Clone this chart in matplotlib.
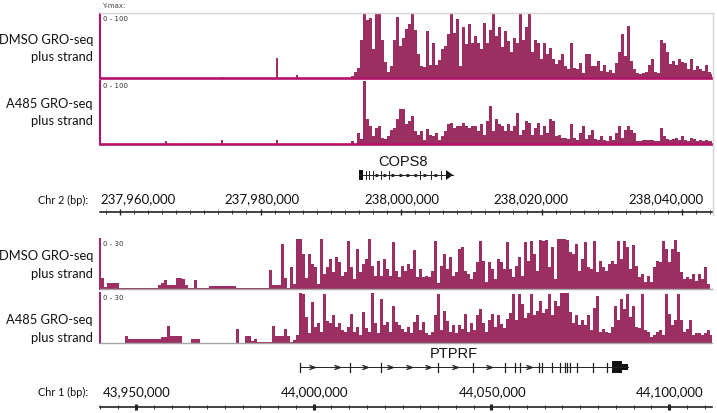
import numpy as np
import matplotlib.pyplot as plt
from matplotlib.patches import Rectangle, Polygon
from matplotlib.lines import Line2D
from matplotlib.ticker import MultipleLocator

plt.rcParams['font.family'] = ['Lato', 'DejaVu Sans']

# ---- data: chr2 window (COPS8), signal 0-100 -------------------------------
TOP_XLIM = (237_957_150, 238_044_270)
TOP_START = 237_992_030
TOP_BIN = 427

dmso_cops8 = [0, 0, 3, 10, 16, 60, 100, 90, 94, 45, 100, 100, 60, 25, 10, 18,
              60, 96, 50, 63, 76, 84, 100, 75, 38, 19, 17, 73, 20, 55, 21, 28,
              45, 50, 68, 100, 70, 92, 18, 80, 53, 84, 55, 65, 55, 45, 86, 55,
              75, 100, 65, 80, 48, 73, 58, 40, 63, 55, 100, 60, 80, 100,
              40, 60, 55, 30, 55, 38, 47, 30, 22, 28, 38, 19, 14, 55, 16, 14,
              24, 8, 37, 37, 18, 19, 27, 11, 21, 9, 12, 8, 24, 40, 68, 35, 81,
              27, 14, 8, 6, 8, 9, 20, 29, 9, 8, 60, 55, 40, 22, 26, 21, 29, 25,
              24, 14, 30, 12, 19, 14, 11, 21, 10, 6]
a485_cops8 = [0, 0, 4, 0, 18, 8, 100, 40, 28, 12, 26, 28, 10, 8, 13, 23, 26,
              40, 55, 55, 32, 37, 45, 20, 15, 20, 7, 24, 15, 13, 18, 7, 13, 21,
              31, 34, 26, 29, 29, 34, 29, 26, 29, 29, 20, 31, 15, 37, 60, 20,
              40, 31, 29, 21, 31, 21, 29, 50, 15, 23, 37, 34,
              15, 25, 34, 15, 28, 18, 39, 36, 12, 14, 10, 10, 8, 31, 10, 7, 18,
              28, 8, 15, 23, 8, 7, 12, 7, 5, 12, 7, 18, 29, 10, 23, 29, 23, 18,
              5, 5, 6, 6, 7, 6, 5, 5, 26, 13, 8, 7, 8, 9, 7, 12, 7, 5, 10, 8, 5,
              7, 5, 7, 5, 4]
# isolated upstream spikes (position, value)
dmso_cops8_spikes = [(237_957_300, 2), (237_974_500, 2), (237_982_350, 31), (237_985_200, 4)]
a485_cops8_spikes = [(237_966_550, 4), (237_974_500, 6), (237_982_350, 7)]

# ---- data: chr1 window (PTPRF), signal 0-30 (given as % of 30) -------------
BOT_XLIM = (43_939_870, 44_112_090)
BOT_START = 43_940_150
BOT_BIN = 844

dmso_ptprf_up = [22, 5, 12, 12, 12, 12, 3, 3, 3, 3, 3, 3, 3, 3, 3, 3, 3, 3, 3,
                 8, 12, 18, 8, 8, 8, 23, 23, 20, 8, 3, 3, 18, 3, 3, 3, 3, 7, 7,
                 7, 7, 7, 7, 7, 7, 7, 2, 2, 2, 2, 2, 2, 2, 2, 2, 2, 2, 38, 8, 8,
                 8, 90, 22]
dmso_ptprf_gene = [3, 44, 10, 100, 100, 70, 22, 71, 50, 45, 10, 100, 30, 44, 60,
                   34, 64, 54, 27, 34, 97, 44, 20, 81, 34, 51, 60, 100, 47, 27,
                   57, 27, 61, 40, 27, 95, 37, 24, 47, 37, 51, 41, 78, 24, 41,
                   24, 27, 24, 37, 97, 12, 47, 71, 40, 64, 27, 34, 81, 84, 37,
                   30, 20, 34, 54, 97, 57, 14, 54, 41, 20,
                   61, 55, 40, 94, 41, 24, 47, 64, 27, 94, 57, 97, 70, 37, 98,
                   97, 99, 44, 84, 20, 100, 100, 100, 99, 75, 70, 90, 37, 61, 94,
                   44, 40, 97, 34, 57, 44, 37, 50, 57, 51, 97, 60, 97, 85, 40, 88,
                   47, 24, 30, 15, 27, 14, 44, 57, 55, 97, 81, 54, 80, 99, 74, 34,
                   20, 24, 20, 30, 17, 30, 20, 44, 10]
a485_ptprf_up = [1, 1, 1, 1, 1, 1, 1, 1, 14, 8, 8, 8, 8, 8, 8, 8, 8, 8, 8, 8,
                 12, 12, 35, 15, 15, 15, 15, 1, 1, 1, 8, 8, 8, 1, 1, 1, 1, 1, 1,
                 1, 1, 1, 1, 1, 1, 29, 1, 1, 15, 15, 5, 8, 2, 2, 2, 2, 2, 35, 15,
                 15, 15, 29, 15]
a485_ptprf_gene = [3, 7, 16, 100, 98, 53, 20, 82, 32, 40, 23, 98, 45, 40, 56, 33,
                   40, 26, 22, 33, 59, 23, 33, 16, 62, 30, 23, 100, 40, 20, 88,
                   36, 42, 23, 75, 42, 36, 29, 23, 33, 20, 42, 56, 26, 42, 20, 16,
                   23, 56, 98, 26, 65, 45, 23, 36, 20, 36, 29, 59, 23, 40, 26, 56,
                   69, 40, 23, 46, 59, 33, 56,
                   38, 30, 49, 60, 98, 46, 98, 78, 50, 60, 98, 56, 65, 85, 60, 68,
                   98, 56, 84, 75, 100, 100, 100, 62, 40, 56, 36, 46, 36, 56, 26,
                   70, 95, 23, 29, 23, 20, 33, 75, 46, 88, 68, 98, 52, 75, 33, 30,
                   98, 26, 23, 13, 16, 23, 26, 16, 98, 59, 36, 46, 98, 46, 23, 29,
                   46, 16, 20, 20, 16, 20, 26, 16]

# ---- gene models -----------------------------------------------------------
cops8_span = (237_994_020, 238_007_400)
cops8_utr = (237_994_020, 237_994_590)
cops8_exons = [237_995_020, 237_995_450, 237_996_010, 237_997_150, 237_998_290,
               238_002_700, 238_004_270, 238_005_690]
cops8_tip = 238_006_400

ptprf_span = (43_996_150, 44_088_450)
ptprf_exons = [43_996_150, 44_010_220, 44_018_940, 44_034_980, 44_044_830,
               44_053_840, 44_056_650, 44_058_060, 44_063_400, 44_064_250,
               44_067_060, 44_069_310, 44_070_720, 44_071_280, 44_072_130,
               44_074_100, 44_078_600, 44_082_540]
ptprf_cds_end = (44_083_950, 44_086_760)
ptprf_utr_end = (44_086_760, 44_088_450)

FILL = '#9b2f62'
MAGENTA = '#b3126b'
W, H = 717, 414
fig = plt.figure(figsize=(W / 100, H / 100), dpi=100)


def box(x0, y0, x1, y1):
    # pixel box (origin top-left) -> figure axes
    return fig.add_axes([x0 / W, 1 - y1 / H, (x1 - x0) / W, (y1 - y0) / H])


def ftext(x, y, s, **kw):
    fig.text(x / W, 1 - y / H, s, **kw)


def track(y0, y1, xlim, start, step, vals, ymax, spikes, base_col, base_lw, left_col, rng):
    ax = box(100, y0, 712, y1)
    vals = np.asarray(vals, dtype=float)
    edges = start + step * np.arange(len(vals) + 1)
    ax.stairs(np.minimum(vals, ymax), edges, fill=True, color=FILL, lw=0)
    for pos, v in spikes:
        ax.bar(pos, v, width=200, color=FILL, lw=0)
    ax.set_xlim(*xlim)
    ax.set_ylim(0, ymax)
    for s in ('top', 'right'):
        ax.spines[s].set_visible(False)
    ax.spines['left'].set_color(left_col)
    ax.spines['left'].set_linewidth(1.5)
    ax.spines['bottom'].set_color(base_col)
    ax.spines['bottom'].set_linewidth(base_lw)
    ax.set_xticks([])
    ax.set_yticks([])
    ax.patch.set_visible(False)
    ax.text(0.005, 0.985, rng, transform=ax.transAxes, va='top', ha='left',
            fontsize=5, color='#333333', family='DejaVu Sans')
    return ax


def ruler(y, xlim, major, minor, big, shifts, rise):
    ax = box(100, y - 1, 712, y)
    ax.set_xlim(*xlim)
    ax.set_ylim(0, 1)
    for s in ('left', 'right', 'top'):
        ax.spines[s].set_visible(False)
    ax.spines['bottom'].set_linewidth(1.2)
    ax.spines['bottom'].set_color('#222222')
    ax.set_yticks([])
    ax.xaxis.set_major_locator(MultipleLocator(major))
    ax.xaxis.set_minor_locator(MultipleLocator(minor))
    ax.tick_params(axis='x', which='major', direction='inout', length=5 if big else 4,
                   width=2.2 if big else 1.0, color='#222222', top=False, bottom=True,
                   labelbottom=False, labeltop=False)
    ax.tick_params(axis='x', which='minor', direction='inout', length=3, width=0.6,
                   color='#222222', top=False, bottom=True)
    ax.patch.set_visible(False)
    locs = [v for v in ax.xaxis.get_majorticklocs() if xlim[0] <= v <= xlim[1]]
    for v, dx in zip(locs, shifts):
        ax.annotate(f'{int(v):,}', xy=(v, 0), xycoords=('data', 'axes fraction'),
                    xytext=(dx * 0.72, rise * 0.72), textcoords='offset points',
                    ha='center', va='center', fontsize=9.5, color='#111111')


def chevrons(ax, a, b, step, size):
    n = int((b - a) // step)
    if n < 1:
        return
    xs = a + (b - a) * (np.arange(n) + 0.5) / n
    ax.plot(xs, np.zeros(n), ls='none', marker='$>$', ms=size, color='#222222', mew=0.4)


def gene_axes(y0, y1, xlim):
    ax = box(100, y0, 712, y1)
    ax.set_xlim(*xlim)
    ax.set_ylim(-1, 1)
    ax.axis('off')
    return ax


# ---- top panel --------------------------------------------------------------
ftext(102, 6, 'Y-max:', fontsize=5, color='#444444', va='center', family='DejaVu Sans')
fig.add_artist(Line2D([100 / W, 713 / W], [1 - 14 / H, 1 - 14 / H], color='#d4d4d4', lw=1))
fig.add_artist(Line2D([713 / W, 713 / W], [1 - 14 / H, 1 - 216 / H], color='#d4d4d4', lw=1))

track(15, 79, TOP_XLIM, TOP_START, TOP_BIN, dmso_cops8, 100, dmso_cops8_spikes,
      MAGENTA, 1.9, MAGENTA, '0 - 100')
track(82, 145, TOP_XLIM, TOP_START, TOP_BIN, a485_cops8, 100, a485_cops8_spikes,
      MAGENTA, 1.9, MAGENTA, '0 - 100')

lab = dict(fontsize=9.3, ha='right', va='center', color='#111111')
ftext(93, 40, 'DMSO GRO-seq', **lab)
ftext(93, 57, 'plus strand', **lab)
ftext(93, 104, 'A485 GRO-seq', **lab)
ftext(93, 121, 'plus strand', **lab)

g1 = gene_axes(166, 186, TOP_XLIM)
g1.plot(cops8_span, [0, 0], color='#222222', lw=0.7)
g1.add_patch(Rectangle((cops8_utr[0], -0.5), cops8_utr[1] - cops8_utr[0], 1.0, color='#111111', lw=0))
for e in cops8_exons:
    g1.plot([e, e], [-0.4, 0.4], color='#222222', lw=0.7)
g1.add_patch(Polygon([[cops8_tip, -0.5], [cops8_tip, 0.5], [cops8_span[1], 0]], closed=True,
                     color='#111111', lw=0))
pts = [cops8_utr[1]] + cops8_exons + [cops8_tip]
for a, b in zip(pts[:-1], pts[1:]):
    chevrons(g1, a, b, 900, 2.5)
g1.text((cops8_span[0] + cops8_span[1]) / 2 - 400, 0.7, 'COPS8', ha='center', va='bottom',
        fontsize=10.5, family='Liberation Sans', color='#111111')

ruler(213, TOP_XLIM, 20_000, 2_000, False, [18, 1, 1, -11, -16], 14)
ftext(88, 200, 'Chr 2 (bp):', fontsize=7.8, ha='right', va='center', color='#111111')

# ---- bottom panel -----------------------------------------------------------
dmso_pt = np.array(dmso_ptprf_up + dmso_ptprf_gene) * 30 / 100
a485_pt = np.array(a485_ptprf_up + a485_ptprf_gene) * 30 / 100
track(240, 290, BOT_XLIM, BOT_START, BOT_BIN, dmso_pt, 30, [], '#a6a6a6', 1.0, FILL, '0 - 30')
track(294, 344, BOT_XLIM, BOT_START, BOT_BIN, a485_pt, 30, [], '#a6a6a6', 1.0, FILL, '0 - 30')
ftext(93, 256, 'DMSO GRO-seq', **lab)
ftext(93, 274, 'plus strand', **lab)
ftext(93, 320, 'A485 GRO-seq', **lab)
ftext(93, 338, 'plus strand', **lab)

g2 = gene_axes(358, 378, BOT_XLIM)
g2.plot(ptprf_span, [0, 0], color='#222222', lw=0.7)
for e in ptprf_exons:
    g2.plot([e, e], [-0.45, 0.45], color='#222222', lw=0.9)
g2.add_patch(Rectangle((ptprf_cds_end[0], -0.6), ptprf_cds_end[1] - ptprf_cds_end[0], 1.2,
                       color='#111111', lw=0))
g2.add_patch(Rectangle((ptprf_utr_end[0], -0.3), ptprf_utr_end[1] - ptprf_utr_end[0], 0.6,
                       color='#111111', lw=0))
pts = ptprf_exons + [ptprf_cds_end[0]]
for a, b in zip(pts[:-1], pts[1:]):
    chevrons(g2, a, b, 5200, 4)
g2.text((ptprf_span[0] + ptprf_span[1]) / 2 - 3000, 0.7, 'PTPRF', ha='center', va='bottom',
        fontsize=10.5, family='Liberation Sans', color='#111111')

ruler(408, BOT_XLIM, 50_000, 5_000, True, [1, 1, 1, 1], 16)
ftext(88, 392, 'Chr 1 (bp):', fontsize=7.8, ha='right', va='center', color='#111111')

fig.savefig('out.png', dpi=100)
